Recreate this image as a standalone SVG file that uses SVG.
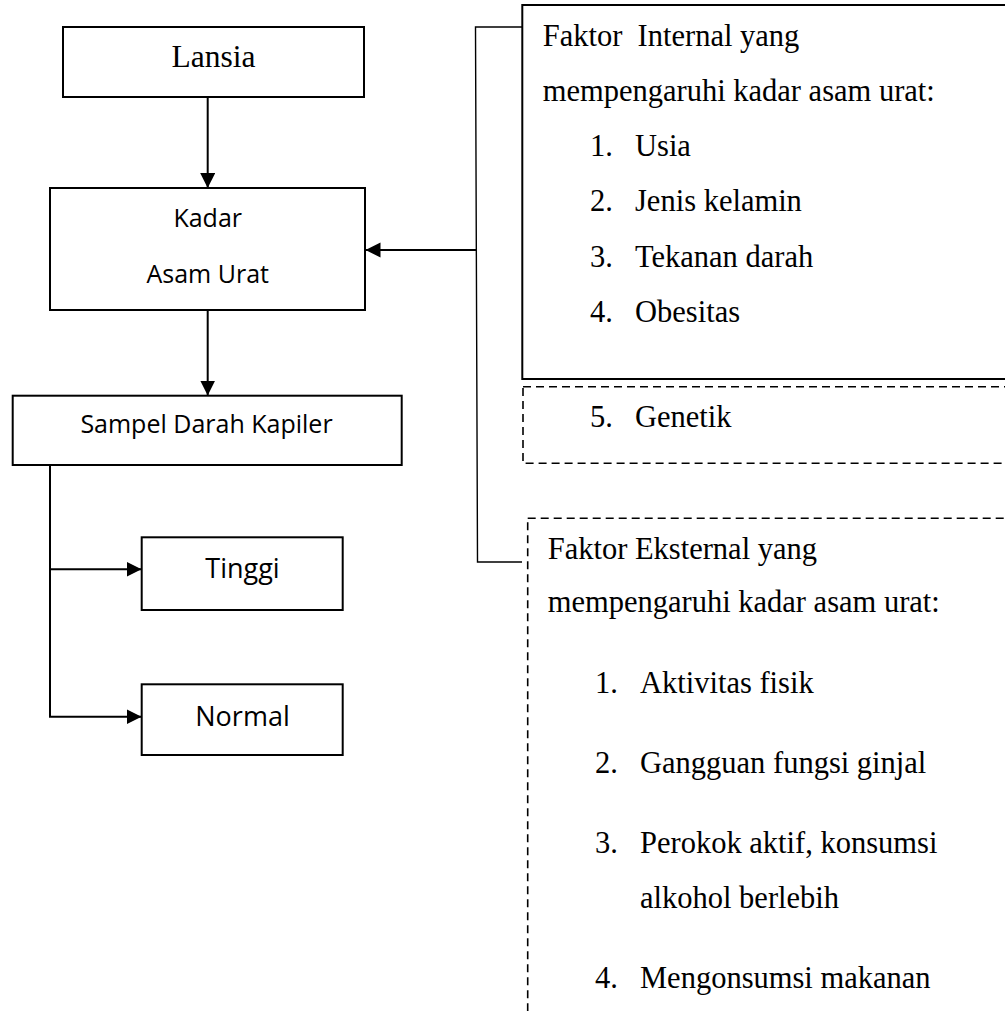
<svg xmlns="http://www.w3.org/2000/svg" width="1005" height="1011" viewBox="0 0 1005 1011">
<style>
.box{fill:#fff;stroke:#000;stroke-width:2}
.dbox{fill:none;stroke:#000;stroke-width:1.6;stroke-dasharray:8 5}
.ln{fill:none;stroke:#000;stroke-width:2}
.thin{fill:none;stroke:#000;stroke-width:1.4}
.serif{font-family:"Liberation Serif","Times New Roman",serif;font-size:30.5px;fill:#000;white-space:pre}
.sans{font-family:"Open Sans","Liberation Sans",sans-serif;font-size:25px;fill:#000;text-anchor:middle}
.sans2{font-family:"Open Sans","Liberation Sans",sans-serif;font-size:27px;fill:#000;text-anchor:middle}
</style>
<defs>
<marker id="ah" markerUnits="userSpaceOnUse" markerWidth="16" markerHeight="16" refX="15" refY="7.5" orient="auto">
<path d="M0,0 L15,7.5 L0,15 Z" fill="#000"/>
</marker>
</defs>
<rect width="1005" height="1011" fill="#fff"/>
<g id="connectors">
<line class="ln" x1="207.7" y1="97" x2="207.7" y2="188" marker-end="url(#ah)"/>
<line class="ln" x1="207.7" y1="310" x2="207.7" y2="395.5" marker-end="url(#ah)"/>
<line class="ln" x1="476" y1="250" x2="365.5" y2="250" marker-end="url(#ah)"/>
<polyline class="thin" points="522,27 475.5,27 477.5,562 522,562"/>
<polyline class="ln" points="50,465 50,716.7"/>
<line class="ln" x1="50" y1="569.3" x2="141.5" y2="569.3" marker-end="url(#ah)"/>
<line class="ln" x1="49" y1="716.7" x2="141.5" y2="716.7" marker-end="url(#ah)"/>
</g>
<g id="node-lansia">
<rect class="box" x="63" y="27" width="301" height="70"/>
<text class="serif" x="213.5" y="67" text-anchor="middle" style="font-size:31.5px">Lansia</text>
</g>
<g id="node-kadar">
<rect class="box" x="50" y="188" width="315" height="122"/>
<text class="sans" x="207.7" y="227">Kadar</text>
<text class="sans" x="207.7" y="283">Asam Urat</text>
</g>
<g id="node-sampel">
<rect class="box" x="12.7" y="395.7" width="389" height="69.3"/>
<text class="sans" x="206.5" y="433">Sampel Darah Kapiler</text>
</g>
<g id="node-tinggi">
<rect class="box" x="141.7" y="537.3" width="201" height="72.7"/>
<text class="sans2" x="242.5" y="578.3">Tinggi</text>
</g>
<g id="node-normal">
<rect class="box" x="141.7" y="684.3" width="201" height="70.7"/>
<text class="sans2" x="242.5" y="726">Normal</text>
</g>
<g id="node-internal">
<rect class="box" x="522.3" y="5" width="500" height="374"/>
<text class="serif" x="542.7" y="46">Faktor  Internal yang</text>
<text class="serif" x="542.7" y="100.5">mempengaruhi kadar asam urat:</text>
<text class="serif" x="590" y="155.5">1.</text><text class="serif" x="635" y="155.5">Usia</text>
<text class="serif" x="590" y="211">2.</text><text class="serif" x="635" y="211">Jenis kelamin</text>
<text class="serif" x="590" y="266.5">3.</text><text class="serif" x="635" y="266.5">Tekanan darah</text>
<text class="serif" x="590" y="322">4.</text><text class="serif" x="635" y="322">Obesitas</text>
</g>
<g id="node-genetik">
<rect class="dbox" x="523" y="386.7" width="500" height="76.6"/>
<text class="serif" x="590" y="427">5.</text><text class="serif" x="635" y="427">Genetik</text>
</g>
<g id="node-eksternal">
<rect class="dbox" x="527.7" y="518.3" width="500" height="520"/>
<text class="serif" x="547.7" y="559">Faktor Eksternal yang</text>
<text class="serif" x="547.7" y="612">mempengaruhi kadar asam urat:</text>
<text class="serif" x="595" y="692.5">1.</text><text class="serif" x="640" y="692.5">Aktivitas fisik</text>
<text class="serif" x="595" y="773.3">2.</text><text class="serif" x="640" y="773.3">Gangguan fungsi ginjal</text>
<text class="serif" x="595" y="853.3">3.</text><text class="serif" x="640" y="853.3">Perokok aktif, konsumsi</text>
<text class="serif" x="640" y="907.7">alkohol berlebih</text>
<text class="serif" x="595" y="988.3">4.</text><text class="serif" x="640" y="988.3">Mengonsumsi makanan</text>
</g>
</svg>
